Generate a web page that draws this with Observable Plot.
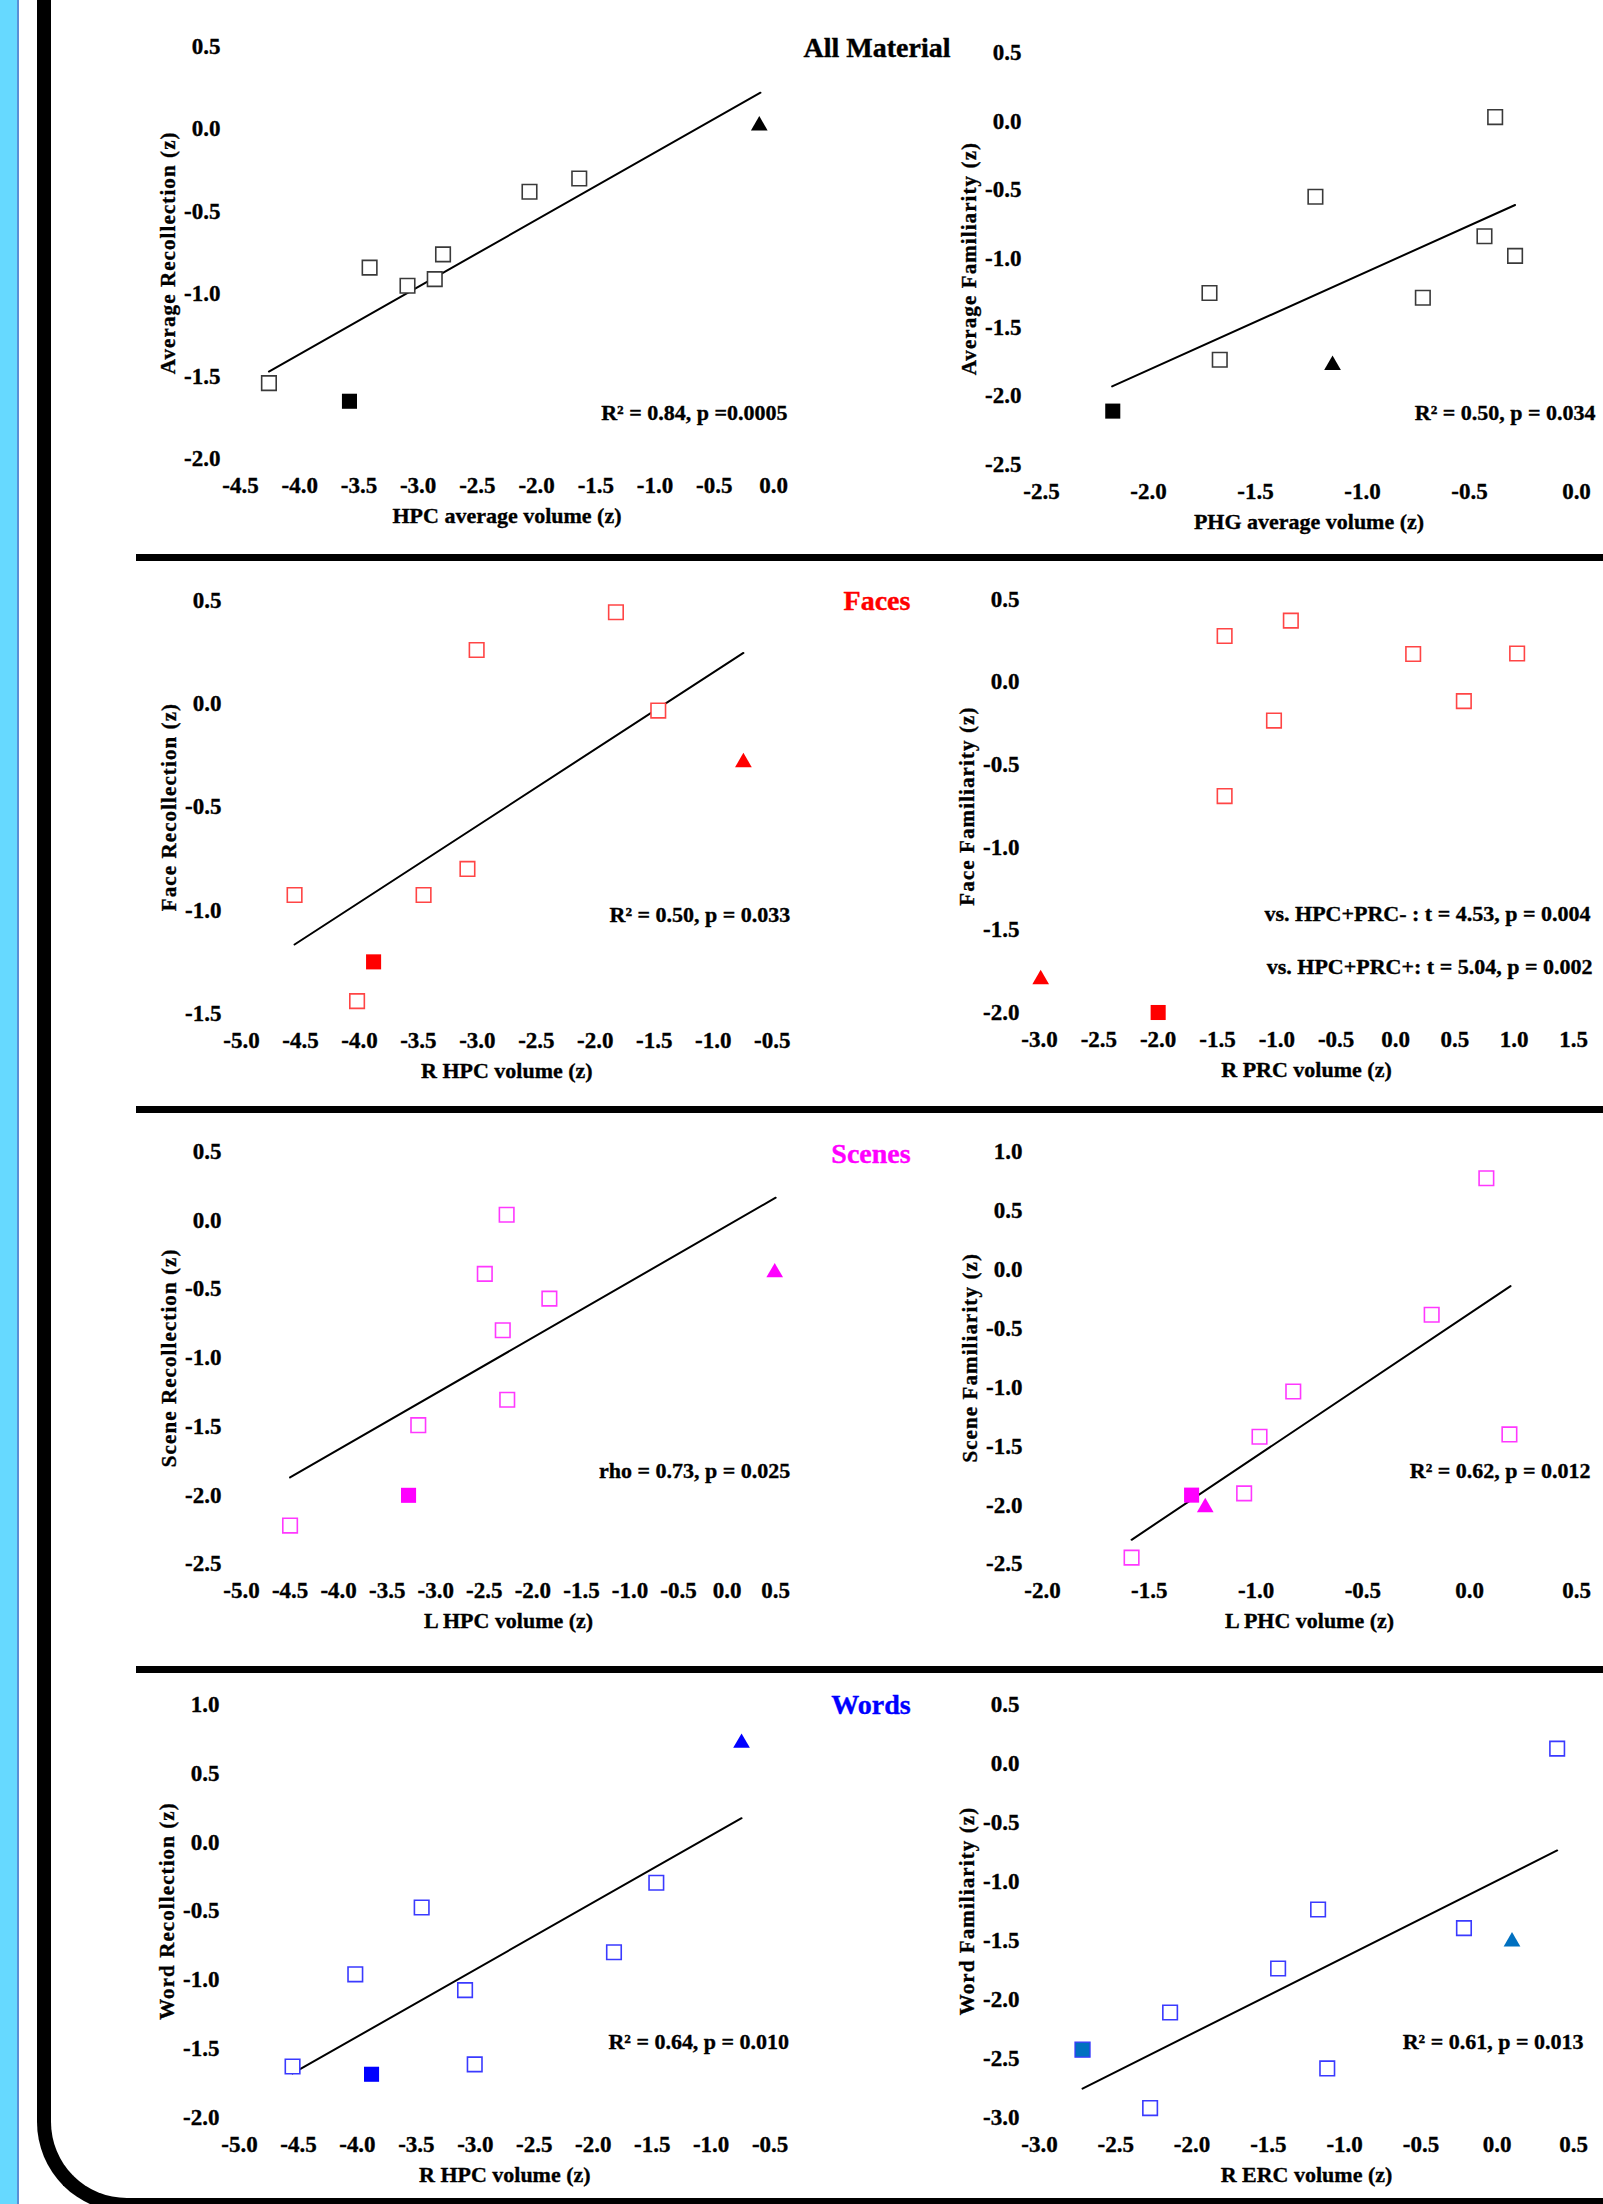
<!DOCTYPE html>
<html><head><meta charset="utf-8">
<script src="https://cdn.jsdelivr.net/npm/d3@7"></script>
<script src="https://cdn.jsdelivr.net/npm/@observablehq/plot@0.6"></script>
<style>
html,body{margin:0;padding:0;background:#fff;overflow:hidden;}
#page{position:relative;width:1603px;height:2204px;overflow:hidden;background:#fff;font-family:"Liberation Serif","Times New Roman",serif;}
.deco{position:absolute;}
.title{position:absolute;font-weight:bold;font-size:28px;line-height:1;white-space:nowrap;transform:translate(-50%,-50%);-webkit-text-stroke:0.4px currentColor;}
#page svg text{stroke:currentColor;stroke-width:0.35px;}
</style></head>
<body><div id="page">
<div class="deco" style="left:0;top:0;width:17px;height:2204px;background:#66d9ff"></div>
<div class="deco" style="left:17px;top:0;width:2px;height:2204px;background:#5a8fd6"></div>
<div class="deco" style="left:37px;top:-20px;width:1700px;height:2232px;box-sizing:border-box;border-left:14px solid #000;border-bottom:14px solid #000;border-bottom-left-radius:90px"></div>
<div class="deco" style="left:136px;top:554px;width:1467px;height:7px;background:#000"></div>
<div class="deco" style="left:136px;top:1106px;width:1467px;height:7px;background:#000"></div>
<div class="deco" style="left:136px;top:1666px;width:1467px;height:7px;background:#000"></div>
</div>
<script>
// ---------- section titles ----------
const sectionTitles = ["All Material", "Faces", "Scenes", "Words"];
const sectionColors = ["#000000", "#ff0000", "#ff00ff", "#0000ff"];

// ---------- Panel 1: All Material, recollection vs HPC ----------
const p1OpenX = [-4.26, -3.41, -3.09, -2.86, -2.79, -2.06, -1.64];
const p1OpenY = [-1.54, -0.84, -0.95, -0.91, -0.76, -0.38, -0.30];
const p1FilledX = [-3.58], p1FilledY = [-1.65];
const p1TriX = [-0.12], p1TriY = [0.02];
const p1TrendX = [-4.26, -0.11], p1TrendY = [-1.47, 0.22];
const p1XTicks = [-4.5, -4.0, -3.5, -3.0, -2.5, -2.0, -1.5, -1.0, -0.5, 0.0];
const p1YTicks = [0.5, 0.0, -0.5, -1.0, -1.5, -2.0];

// ---------- Panel 2: All Material, familiarity vs PHG ----------
const p2OpenX = [-1.715, -1.667, -1.22, -0.718, -0.43, -0.38, -0.287];
const p2OpenY = [-1.25, -1.736, -0.55, -1.285, -0.837, 0.03, -0.98];
const p2FilledX = [-2.167], p2FilledY = [-2.11];
const p2TriX = [-1.14], p2TriY = [-1.775];
const p2TrendX = [-2.17, -0.287], p2TrendY = [-1.93, -0.61];
const p2XTicks = [-2.5, -2.0, -1.5, -1.0, -0.5, 0.0];
const p2YTicks = [0.5, 0.0, -0.5, -1.0, -1.5, -2.0, -2.5];

// ---------- Panel 3: Faces, recollection vs R HPC ----------
const p3OpenX = [-4.55, -4.02, -3.456, -3.084, -3.006, -1.825, -1.466];
const p3OpenY = [-0.926, -1.44, -0.926, -0.80, 0.26, 0.443, -0.033];
const p3FilledX = [-3.88], p3FilledY = [-1.25];
const p3TriX = [-0.744], p3TriY = [-0.284];
const p3TrendX = [-4.55, -0.744], p3TrendY = [-1.166, 0.246];
const p3XTicks = [-5.0, -4.5, -4.0, -3.5, -3.0, -2.5, -2.0, -1.5, -1.0, -0.5];
const p3YTicks = [0.5, 0.0, -0.5, -1.0, -1.5];

// ---------- Panel 4: Faces, familiarity vs R PRC ----------
const p4OpenX = [-1.44, -1.44, -0.882, -1.024, 0.149, 0.576, 1.025];
const p4OpenY = [0.279, -0.69, 0.372, -0.233, 0.17, -0.115, 0.173];
const p4FilledX = [-2.0], p4FilledY = [-2.0];
const p4TriX = [-2.99], p4TriY = [-1.80];
const p4XTicks = [-3.0, -2.5, -2.0, -1.5, -1.0, -0.5, 0.0, 0.5, 1.0, 1.5];
const p4YTicks = [0.5, 0.0, -0.5, -1.0, -1.5, -2.0];

// ---------- Panel 5: Scenes, recollection vs L HPC ----------
const p5OpenX = [-4.50, -3.18, -2.495, -2.31, -2.27, -2.264, -1.83];
const p5OpenY = [-2.22, -1.49, -0.39, -0.80, 0.04, -1.305, -0.57];
const p5FilledX = [-3.28], p5FilledY = [-2.0];
const p5TriX = [0.49], p5TriY = [-0.38];
const p5TrendX = [-4.5, 0.5], p5TrendY = [-1.87, 0.164];
const p5XTicks = [-5.0, -4.5, -4.0, -3.5, -3.0, -2.5, -2.0, -1.5, -1.0, -0.5, 0.0, 0.5];
const p5YTicks = [0.5, 0.0, -0.5, -1.0, -1.5, -2.0, -2.5];

// ---------- Panel 6: Scenes, familiarity vs L PHC ----------
const p6OpenX = [-1.583, -1.056, -0.984, -0.826, -0.178, 0.078, 0.186];
const p6OpenY = [-2.445, -1.90, -1.42, -1.036, -0.385, 0.773, -1.40];
const p6FilledX = [-1.302], p6FilledY = [-1.915];
const p6TriX = [-1.238], p6TriY = [-2.02];
const p6TrendX = [-1.583, 0.191], p6TrendY = [-2.294, -0.142];
const p6XTicks = [-2.0, -1.5, -1.0, -0.5, 0.0, 0.5];
const p6YTicks = [1.0, 0.5, 0.0, -0.5, -1.0, -1.5, -2.0, -2.5];

// ---------- Panel 7: Words, recollection vs R HPC ----------
const p7OpenX = [-4.55, -4.018, -3.455, -3.087, -3.005, -1.824, -1.465];
const p7OpenY = [-1.63, -0.96, -0.475, -1.075, -1.614, -0.80, -0.295];
const p7FilledX = [-3.88], p7FilledY = [-1.686];
const p7TriX = [-0.742], p7TriY = [0.72];
const p7TrendX = [-4.55, -0.742], p7TrendY = [-1.68, 0.174];
const p7XTicks = [-5.0, -4.5, -4.0, -3.5, -3.0, -2.5, -2.0, -1.5, -1.0, -0.5];
const p7YTicks = [1.0, 0.5, 0.0, -0.5, -1.0, -1.5, -2.0];

// ---------- Panel 8: Words, familiarity vs R ERC ----------
const p8OpenX = [-2.275, -2.144, -1.436, -1.174, -1.114, -0.218, 0.393];
const p8OpenY = [-2.92, -2.11, -1.737, -1.237, -2.584, -1.395, 0.126];
const p8FilledX = [-2.718], p8FilledY = [-2.425];
const p8TriX = [0.097], p8TriY = [-1.51];
const p8TrendX = [-2.718, 0.393], p8TrendY = [-2.755, -0.737];
const p8XTicks = [-3.0, -2.5, -2.0, -1.5, -1.0, -0.5, 0.0, 0.5];
const p8YTicks = [0.5, 0.0, -0.5, -1.0, -1.5, -2.0, -2.5, -3.0];

// ---------- labels ----------
const xLabels = ["HPC average volume (z)", "PHG average volume (z)", "R HPC volume (z)", "R PRC volume (z)",
                 "L HPC volume (z)", "L PHC volume (z)", "R HPC volume (z)", "R ERC volume (z)"];
const yLabels = ["Average Recollection (z)", "Average Familiarity (z)", "Face Recollection (z)", "Face Familiarity (z)",
                 "Scene Recollection (z)", "Scene Familiarity (z)", "Word Recollection (z)", "Word Familiarity (z)"];
const statTexts = [["R² = 0.84, p =0.0005"], ["R² = 0.50, p = 0.034"], ["R² = 0.50, p = 0.033"],
                   ["vs. HPC+PRC- : t = 4.53, p = 0.004", "vs. HPC+PRC+: t = 5.04, p = 0.002"],
                   ["rho = 0.73, p = 0.025"], ["R² = 0.62, p = 0.012"], ["R² = 0.64, p = 0.010"], ["R² = 0.61, p = 0.013"]];

const zip = (xs, ys) => xs.map((x, i) => ({x, y: ys[i]}));
const fmt = d => (d < -1e-9 ? "-" : "") + Math.abs(d).toFixed(1);

// layout / style configuration (pixel frames: left, right, top, bottom)
const panels = [
  {frame: [240, 773, 45.7, 458.2], xd: [-4.5, 0], yd: [-2, 0.5], xt: p1XTicks, yt: p1YTicks,
   open: zip(p1OpenX, p1OpenY), filled: zip(p1FilledX, p1FilledY), tri: zip(p1TriX, p1TriY), trend: zip(p1TrendX, p1TrendY),
   openC: "#3a3a3a", fillC: "#000", triC: "#000", notePos: [[14, -46]]},
  {frame: [1040.7, 1575.7, 51.8, 464], xd: [-2.5, 0], yd: [-2.5, 0.5], xt: p2XTicks, yt: p2YTicks,
   open: zip(p2OpenX, p2OpenY), filled: zip(p2FilledX, p2FilledY), tri: zip(p2TriX, p2TriY), trend: zip(p2TrendX, p2TrendY),
   openC: "#3a3a3a", fillC: "#000", triC: "#000", notePos: [[19, -52]]},
  {frame: [241.3, 772, 600, 1013], xd: [-5, -0.5], yd: [-1.5, 0.5], xt: p3XTicks, yt: p3YTicks,
   open: zip(p3OpenX, p3OpenY), filled: zip(p3FilledX, p3FilledY), tri: zip(p3TriX, p3TriY), trend: zip(p3TrendX, p3TrendY),
   openC: "#ff4545", fillC: "#ff0000", triC: "#ff0000", notePos: [[18, -99]]},
  {frame: [1039, 1573, 599, 1012], xd: [-3, 1.5], yd: [-2, 0.5], xt: p4XTicks, yt: p4YTicks,
   open: zip(p4OpenX, p4OpenY), filled: zip(p4FilledX, p4FilledY), tri: zip(p4TriX, p4TriY), trend: null,
   openC: "#ff4545", fillC: "#ff0000", triC: "#ff0000", notePos: [[17, -99], [19, -46]]},
  {frame: [241.3, 775.5, 1151.4, 1564], xd: [-5, 0.5], yd: [-2.5, 0.5], xt: p5XTicks, yt: p5YTicks,
   open: zip(p5OpenX, p5OpenY), filled: zip(p5FilledX, p5FilledY), tri: zip(p5TriX, p5TriY), trend: zip(p5TrendX, p5TrendY),
   openC: "#ff38ff", fillC: "#ff00ff", triC: "#ff00ff", notePos: [[14.5, -93]]},
  {frame: [1041.7, 1575.7, 1151.4, 1564], xd: [-2, 0.5], yd: [-2.5, 1.0], xt: p6XTicks, yt: p6YTicks,
   open: zip(p6OpenX, p6OpenY), filled: zip(p6FilledX, p6FilledY), tri: zip(p6TriX, p6TriY), trend: zip(p6TrendX, p6TrendY),
   openC: "#ff38ff", fillC: "#ff00ff", triC: "#ff00ff", notePos: [[14, -93]]},
  {frame: [238.8, 769.4, 1704, 2117], xd: [-5, -0.5], yd: [-2, 1], xt: p7XTicks, yt: p7YTicks,
   open: zip(p7OpenX, p7OpenY), filled: zip(p7FilledX, p7FilledY), tri: zip(p7TriX, p7TriY), trend: zip(p7TrendX, p7TrendY),
   openC: "#3a3aff", fillC: "#0000ff", triC: "#0000ff", notePos: [[19, -75.5]]},
  {frame: [1039, 1573, 1704, 2117], xd: [-3, 0.5], yd: [-3, 0.5], xt: p8XTicks, yt: p8YTicks,
   open: zip(p8OpenX, p8OpenY), filled: zip(p8FilledX, p8FilledY), tri: zip(p8TriX, p8TriY), trend: zip(p8TrendX, p8TrendY),
   openC: "#3a3aff", fillC: "#0070c0", fillS: "#3a3aff", triC: "#0070c0", notePos: [[10, -75.5]]}
];

const page = document.getElementById("page");

panels.forEach((p, i) => {
  const mL = 110, mR = 32, mT = 20, mB = 80;
  const [fl, fr, ft, fb] = p.frame;
  const marks = [
    Plot.axisX({ticks: p.xt, tickSize: 0, tickPadding: 18, tickFormat: fmt, label: null}),
    Plot.axisY({ticks: p.yt, tickSize: 0, tickPadding: 20, tickFormat: fmt, label: null}),
  ];
  if (p.trend) marks.push(Plot.line(p.trend, {x: "x", y: "y", stroke: "#000", strokeWidth: 2}));
  marks.push(
    Plot.dot(p.open, {x: "x", y: "y", symbol: "square", r: 8.2, fill: "#fff", stroke: p.openC, strokeWidth: 1.6}),
    Plot.dot(p.filled, {x: "x", y: "y", symbol: "square", r: 8.5, fill: p.fillC, stroke: p.fillS || "none", strokeWidth: 1.2}),
    Plot.dot(p.tri, {x: "x", y: "y", symbol: "triangle", r: 6.2, fill: p.triC}),
    Plot.text([xLabels[i]], {text: d => d, frameAnchor: "bottom", textAnchor: "middle", lineAnchor: "middle", dy: 57, fontSize: 22}),
    Plot.text([yLabels[i]], {text: d => d, frameAnchor: "left", textAnchor: "middle", lineAnchor: "middle",
      dx: -72, rotate: -90, fontSize: 21})
  );
  statTexts[i].forEach((t, k) => {
    marks.push(Plot.text([t], {text: d => d, frameAnchor: "bottom-right", textAnchor: "end", lineAnchor: "middle",
      dx: p.notePos[k][0], dy: p.notePos[k][1], fontSize: 22}));
  });
  const svg = Plot.plot({
    width: (fr - fl) + mL + mR, height: (fb - ft) + mT + mB,
    marginLeft: mL, marginRight: mR, marginTop: mT, marginBottom: mB,
    x: {domain: p.xd}, y: {domain: p.yd},
    style: {fontFamily: "'Liberation Serif', 'Times New Roman', serif", fontSize: "23px", fontWeight: "bold",
            color: "#000", background: "transparent", overflow: "visible", maxWidth: "none",
            position: "absolute", left: (fl - mL) + "px", top: (ft - mT) + "px"},
    marks
  });
  d3.select(svg).selectAll("text").filter(function() { return this.textContent === yLabels[i]; })
    .style("letter-spacing", "1.1px");
  page.appendChild(svg);
});

// section titles
const titlePos = [[877, 48], [877, 601], [871, 1154], [871, 1705]];
sectionTitles.forEach((t, i) => {
  const div = document.createElement("div");
  div.className = "title";
  div.textContent = t;
  div.style.left = titlePos[i][0] + "px";
  div.style.top = titlePos[i][1] + "px";
  div.style.color = sectionColors[i];
  page.appendChild(div);
});
</script>
</body></html>
